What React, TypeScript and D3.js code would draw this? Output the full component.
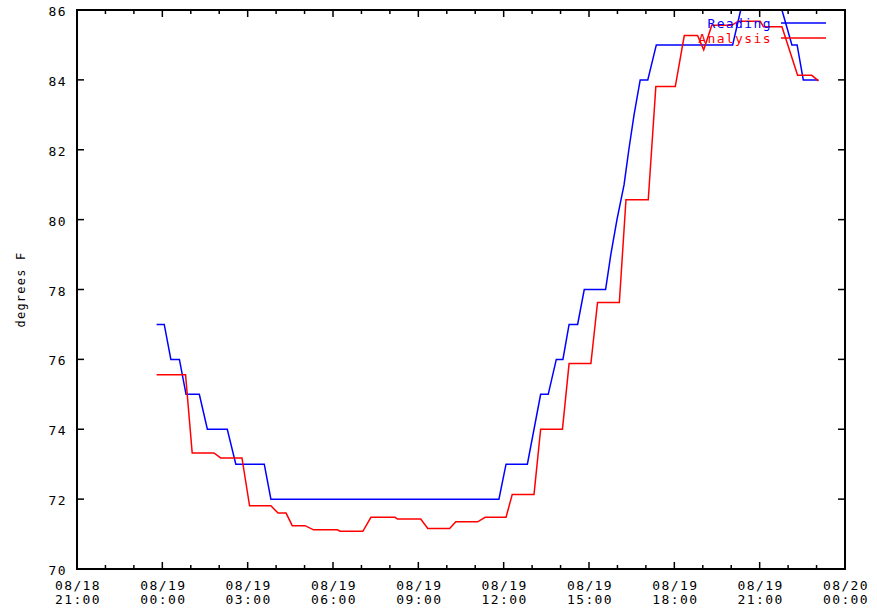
import { useEffect, useRef } from 'react';
import * as d3 from 'd3';

// minutes after 08/19 00:00
const readingMinutes = [-12, 4, 18, 36, 50, 78, 95, 137, 155, 215, 229, 710, 725, 770, 784, 798, 814, 831, 845, 858, 876, 890, 935, 946, 959, 974, 984, 995, 1008, 1024, 1042, 1203, 1220, 1307, 1328, 1339, 1352, 1384];
const readingValues = [77, 77, 76, 76, 75, 75, 74, 74, 73, 73, 72, 72, 73, 73, 74, 75, 75, 76, 76, 77, 77, 78, 78, 79, 80, 81, 82, 83, 84, 84, 85, 85, 86, 86, 85, 85, 84, 84];

const analysisMinutes = [-12, 49, 63, 109, 123, 168, 184, 229, 244, 261, 274, 301, 319, 369, 375, 423, 440, 491, 496, 545, 560, 606, 619, 665, 681, 725, 738, 784, 798, 844, 858, 904, 918, 964, 978, 1025, 1041, 1082, 1101, 1129, 1142, 1159, 1201, 1215, 1261, 1268, 1307, 1340, 1370, 1384];
const analysisValues = [75.56, 75.56, 73.32, 73.32, 73.18, 73.18, 71.81, 71.81, 71.6, 71.6, 71.24, 71.24, 71.12, 71.12, 71.08, 71.08, 71.48, 71.48, 71.43, 71.43, 71.16, 71.16, 71.35, 71.35, 71.48, 71.48, 72.13, 72.13, 74.0, 74.0, 75.88, 75.88, 77.63, 77.63, 80.57, 80.57, 83.81, 83.81, 85.27, 85.27, 84.86, 85.56, 85.56, 85.68, 85.68, 85.52, 85.52, 84.13, 84.13, 83.97];

const yTicks = [70, 72, 74, 76, 78, 80, 82, 84, 86];
const seriesNames = ['Reading', 'Analysis'];
const seriesColors = ['#0000ff', '#ff0000'];

const BASE = new Date(2024, 7, 19, 0, 0);
const START = new Date(2024, 7, 18, 21, 0);
const END = new Date(2024, 7, 20, 0, 0);

const FONT = '"DejaVu Sans Mono", monospace';

export default function App() {
  const svgRef = useRef<SVGSVGElement>(null);

  useEffect(() => {
    if (!svgRef.current) return;
    const width = 877;
    const height = 613;
    const margin = { top: 10, right: 32, bottom: 44, left: 77 };

    const svg = d3.select(svgRef.current);
    svg.selectAll('*').remove();
    svg.attr('width', width).attr('height', height);

    const x = d3.scaleTime().domain([START, END]).range([margin.left, width - margin.right]);
    const y = d3.scaleLinear().domain([70, 86]).range([height - margin.bottom, margin.top]);
    const x0 = margin.left, x1 = width - margin.right;
    const y0 = height - margin.bottom, y1 = margin.top;

    const toDate = (m: number) => new Date(BASE.getTime() + m * 60000);
    const series = [
      readingMinutes.map((m, i) => ({ t: toDate(m), v: readingValues[i] })),
      analysisMinutes.map((m, i) => ({ t: toDate(m), v: analysisValues[i] })),
    ];

    svg.append('clipPath').attr('id', 'plot-clip')
      .append('rect').attr('x', x0).attr('y', y1 - 1).attr('width', x1 - x0).attr('height', y0 - y1 + 1);

    // data lines
    const line = d3.line<{ t: Date; v: number }>().x(d => x(d.t)).y(d => y(d.v));
    series.forEach((s, i) => {
      svg.append('path').datum(s)
        .attr('d', line)
        .attr('fill', 'none')
        .attr('stroke', seriesColors[i])
        .attr('stroke-width', 1.5)
        .attr('clip-path', 'url(#plot-clip)');
    });

    // frame + ticks
    const axes = svg.append('g').attr('stroke', '#000').attr('fill', 'none');
    axes.append('rect').attr('x', x0).attr('y', y1).attr('width', x1 - x0).attr('height', y0 - y1)
      .attr('stroke-width', 2);

    const minor = x.ticks(d3.timeHour.every(1)!);
    const major = x.ticks(d3.timeHour.every(3)!);
    minor.forEach(t => {
      const len = t.getHours() % 3 === 0 ? 7 : 4;
      axes.append('line').attr('x1', x(t)).attr('x2', x(t)).attr('y1', y0).attr('y2', y0 - len).attr('stroke-width', 1.5);
      axes.append('line').attr('x1', x(t)).attr('x2', x(t)).attr('y1', y1).attr('y2', y1 + len).attr('stroke-width', 1.5);
    });
    yTicks.forEach(v => {
      axes.append('line').attr('x1', x0).attr('x2', x0 + 7).attr('y1', y(v)).attr('y2', y(v)).attr('stroke-width', 1.5);
      axes.append('line').attr('x1', x1).attr('x2', x1 - 7).attr('y1', y(v)).attr('y2', y(v)).attr('stroke-width', 1.5);
    });

    // tick labels
    const fmtDay = d3.timeFormat('%m/%d');
    const fmtHour = d3.timeFormat('%H:%M');
    major.forEach(t => {
      const txt = svg.append('text')
        .attr('x', x(t) + 1).attr('text-anchor', 'middle')
        .style('font-family', FONT).style('font-size', '13px').style('letter-spacing', '1.4px')
        .attr('fill', '#000');
      txt.append('tspan').attr('x', x(t) + 1).attr('y', 590).text(fmtDay(t));
      txt.append('tspan').attr('x', x(t) + 1).attr('y', 604).text(fmtHour(t));
    });
    yTicks.forEach(v => {
      svg.append('text')
        .attr('x', 67).attr('y', y(v) + 6)
        .attr('text-anchor', 'end')
        .style('font-family', FONT).style('font-size', '13px').style('letter-spacing', '1.4px')
        .attr('fill', '#000')
        .text(v);
    });

    // axis title
    svg.append('text')
      .attr('transform', `translate(25,${(y0 + y1) / 2}) rotate(-90)`)
      .attr('text-anchor', 'middle')
      .style('font-family', FONT).style('font-size', '12px').style('letter-spacing', '1.2px')
      .attr('fill', '#000')
      .text('degrees F');

    // legend
    seriesNames.forEach((name, i) => {
      const ly = 23 + i * 15;
      svg.append('text')
        .attr('x', 772).attr('y', ly + 5)
        .attr('text-anchor', 'end')
        .style('font-family', FONT).style('font-size', '13px').style('letter-spacing', '1.4px')
        .attr('fill', seriesColors[i])
        .text(name);
      svg.append('line')
        .attr('x1', 781).attr('x2', 826).attr('y1', ly).attr('y2', ly)
        .attr('stroke', seriesColors[i]).attr('stroke-width', 1.5);
    });
  }, []);

  return (
    <div style={{ position: 'absolute', left: 0, top: 0, width: 877, height: 613, background: '#fff' }}>
      <svg ref={svgRef} style={{ display: 'block' }} />
    </div>
  );
}
